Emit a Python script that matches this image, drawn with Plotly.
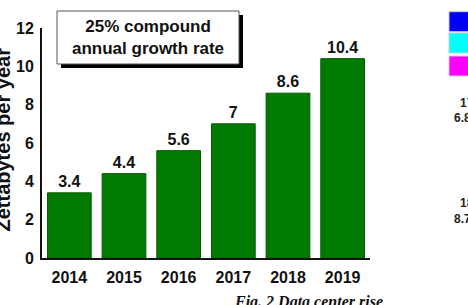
import plotly.graph_objects as go

years = ["2014", "2015", "2016", "2017", "2018", "2019"]
zettabytes = [3.4, 4.4, 5.6, 7, 8.6, 10.4]
bar_labels = ["3.4", "4.4", "5.6", "7", "8.6", "10.4"]
y_ticks = [0, 2, 4, 6, 8, 10, 12]

side_colors = ["#0000FF", "#00FFFF", "#FF00FF"]
side_texts = ["17", "6.8", "18", "8.7"]

W, H = 468, 305
L, R, T, B = 42, 370, 28, 258


def px(x):
    return (x - L) / (R - L)


def py(y):
    return (B - y) / (B - T)


fig = go.Figure()
fig.add_trace(go.Bar(
    x=years, y=zettabytes, text=bar_labels, textposition="outside",
    textfont=dict(family="Liberation Sans", size=16, color="#111111", weight="bold"),
    marker=dict(color="#007A00", line=dict(color="#005A00", width=1)),
    cliponaxis=False, width=0.8,
))

shapes = []
# shadow + box
shapes.append(dict(type="rect", xref="paper", yref="paper", x0=px(61), x1=px(243), y0=py(68), y1=py(15),
                   fillcolor="black", line=dict(width=0), layer="above"))
shapes.append(dict(type="rect", xref="paper", yref="paper", x0=px(57), x1=px(239), y0=py(64), y1=py(11),
                   fillcolor="white", line=dict(color="#555555", width=1), layer="above"))
# side legend squares
sq = [(11.7, 31.7), (33, 53), (56, 76)]
for c, (a, b) in zip(side_colors, sq):
    shapes.append(dict(type="rect", xref="paper", yref="paper", x0=px(449), x1=px(475), y0=py(b), y1=py(a),
                       fillcolor=c, line=dict(color="#cccccc", width=1), layer="above"))

annotations = []
annotations.append(dict(xref="paper", yref="paper", x=px(148), y=py(38), xanchor="center", yanchor="middle",
                        text="25% compound<br>annual growth rate", showarrow=False,
                        font=dict(family="Liberation Sans", size=17, color="#111111", weight="bold")))
annotations.append(dict(xref="paper", yref="paper", x=px(2.5), y=py(140), xanchor="center", yanchor="middle",
                        text="Zettabytes per year", textangle=-90, showarrow=False,
                        font=dict(family="Liberation Sans", size=20, color="#111111", weight="bold")))
annotations.append(dict(xref="paper", yref="paper", x=px(308), y=py(291), xanchor="center", yanchor="top",
                        text="<i>Fig. 2 Data center rise</i>", showarrow=False,
                        font=dict(family="Liberation Serif", size=16, color="#111111", weight="bold")))
side_pos = [(458, 103), (452, 118), (458, 203), (452, 219)]
for t, (x, y) in zip(side_texts, side_pos):
    annotations.append(dict(xref="paper", yref="paper", x=px(x), y=py(y), xanchor="left", yanchor="middle",
                            text=t, showarrow=False,
                            font=dict(family="Liberation Sans", size=12, color="#222222", weight="bold")))

fig.update_layout(
    width=W, height=H, margin=dict(l=L, r=W - R, t=T, b=H - B, pad=0),
    paper_bgcolor="white", plot_bgcolor="white", showlegend=False,
    shapes=shapes, annotations=annotations,
    xaxis=dict(showline=True, linecolor="#111111", linewidth=2, showgrid=False, ticks="outside",
               ticklen=4, tickcolor="rgba(0,0,0,0)",
               tickfont=dict(family="Liberation Sans", size=16, color="#111111", weight="bold")),
    yaxis=dict(range=[0, 12], tickvals=y_ticks, showline=True, linecolor="#111111", linewidth=2,
               showgrid=False, zeroline=False, ticks="outside", ticklen=3, tickcolor="rgba(0,0,0,0)",
               tickfont=dict(family="Liberation Sans", size=16, color="#111111", weight="bold")),
)

fig.write_html("out.html")
